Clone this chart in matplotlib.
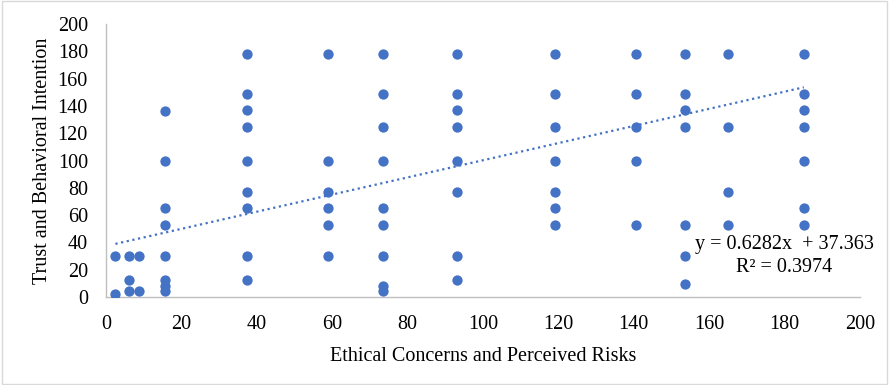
import matplotlib
matplotlib.use("Agg")
import matplotlib.pyplot as plt
from matplotlib.patches import Rectangle

# ---- data ----
ethical_x = [2.5, 2.5,
             6, 6, 6,
             8.7, 8.7,
             15.7, 15.7, 15.7, 15.7, 15.7, 15.7, 15.7, 15.7,
             37.4, 37.4, 37.4, 37.4, 37.4, 37.4, 37.4, 37.4, 37.4,
             59, 59, 59, 59, 59, 59,
             73.4, 73.4, 73.4, 73.4, 73.4, 73.4, 73.4, 73.4, 73.4,
             93, 93, 93, 93, 93, 93, 93, 93,
             119, 119, 119, 119, 119, 119, 119,
             140.6, 140.6, 140.6, 140.6, 140.6,
             153.7, 153.7, 153.7, 153.7, 153.7, 153.7, 153.7,
             165.1, 165.1, 165.1, 165.1,
             185.1, 185.1, 185.1, 185.1, 185.1, 185.1, 185.1]
trust_y = [30, 2,
           30, 12.5, 4.5,
           30, 4.5,
           136.5, 100, 65.5, 52.5, 30, 12.5, 8, 4.5,
           178, 149, 137, 124.5, 100, 77, 65.5, 30, 12.5,
           178, 100, 77, 65.5, 52.5, 30,
           178, 149, 124.5, 100, 65.5, 52.5, 30, 8, 4.5,
           178, 149, 137, 124.5, 100, 77, 30, 12.5,
           178, 149, 124.5, 100, 77, 65.5, 52.5,
           178, 149, 124.5, 100, 52.5,
           178, 149, 137, 124.5, 52.5, 30, 9.5,
           178, 124.5, 77, 52.5,
           178, 149, 137, 124.5, 100, 65.5, 52.5]
slope = 0.6282
intercept = 37.363
r_squared = 0.3974
x_ticks = [0, 20, 40, 60, 80, 100, 120, 140, 160, 180, 200]
y_ticks = [0, 20, 40, 60, 80, 100, 120, 140, 160, 180, 200]

plt.rcParams['font.family'] = ['Liberation Serif', 'DejaVu Serif']
color = '#4472C4'

fig = plt.figure(figsize=(8.89, 3.85), dpi=100)
fig.patches.append(Rectangle((0.002, 0.003), 0.996, 0.994, transform=fig.transFigure,
                             fill=False, edgecolor='#d9d9d9', linewidth=1.0))
ax = fig.add_axes([106 / 889, 1 - 297 / 385, (860 - 106) / 889, (297 - 24) / 385])

ax.scatter(ethical_x, trust_y, s=55, color=color, zorder=3, linewidths=0)

x0, x1 = min(ethical_x), max(ethical_x)
ax.plot([x0, x1], [slope * x0 + intercept, slope * x1 + intercept],
        linestyle=(0, (1, 1.6)), color=color, linewidth=1.6, zorder=2)

ax.set_xlim(0, 200)
ax.set_ylim(0, 200)
ax.set_xticks(x_ticks)
ax.set_yticks(y_ticks)
ax.tick_params(axis='x', length=0, labelsize=14.5, colors='#000000', pad=13)
ax.tick_params(axis='y', length=0, labelsize=14.5, colors='#000000', pad=13)
for s in ['top', 'right']:
    ax.spines[s].set_visible(False)
for s in ['left', 'bottom']:
    ax.spines[s].set_color('#bfbfbf')
    ax.spines[s].set_linewidth(1.0)

ax.set_xlabel('Ethical Concerns and Perceived Risks', fontsize=14.5, labelpad=9)
ax.set_ylabel('Trust and Behavioral Intention', fontsize=14.5, labelpad=4)

ax.text(0.9, 0.15, f'y = {slope}x  + {intercept}\nR² = {r_squared}',
        transform=ax.transAxes, fontsize=14.5, ha='center', va='center',
        linespacing=1.3, zorder=4)

fig.savefig('out.png', dpi=100)
